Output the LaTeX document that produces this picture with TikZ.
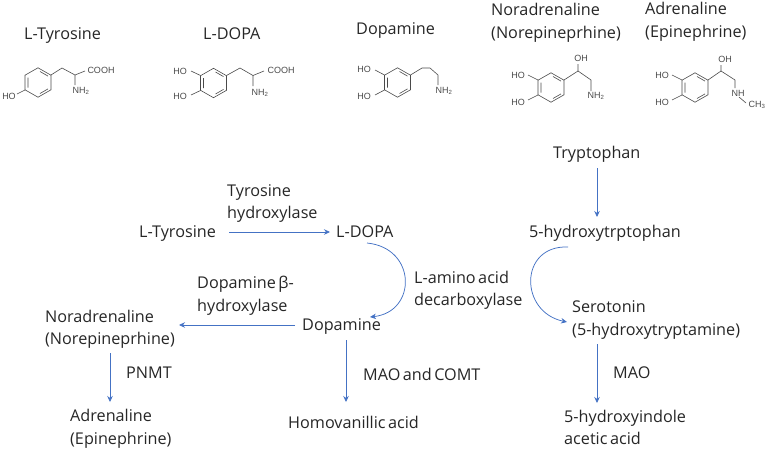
\documentclass[tikz,border=0pt]{standalone}
\usepackage{fontspec}
\setmainfont[WordSpace=0.6]{Open Sans}
\newfontfamily\molfont{Liberation Sans}
\usetikzlibrary{arrows.meta}
\definecolor{arrowblue}{HTML}{4472C4}
\definecolor{molgray}{HTML}{4A4A4A}
\tikzset{
  lab/.style={font=\fontsize{16.2}{19}\selectfont, text=black!85, inner sep=0pt, text height=14pt, text depth=3.5pt, anchor=west},
  arr/.style={draw=arrowblue, line width=0.75pt, -{Stealth[length=6pt,width=5.5pt]}},
  bond/.style={draw=molgray, line width=0.6pt},
  atom/.style={font=\molfont\fontsize{9}{10}\selectfont, text=molgray, inner sep=0pt},
}
\newcommand{\benzring}[2]{%
  \begin{scope}[shift={(#1,#2)}]
    \draw[bond] (0,14.7)--(13,7.3)--(13,-7.3)--(0,-14.7)--(-13,-7.3)--(-13,7.3)--cycle;
    \draw[bond] (2,11)--(10,6.4) (10,-6.4)--(2,-11) (-10,-5)--(-10,5);
  \end{scope}}
\begin{document}
\begin{tikzpicture}[x=1pt,y=-1pt]
\useasboundingbox (0,0) rectangle (767,450);
% top titles
\node[lab] (t1) at (24,34) {L-Tyrosine};
\node[lab] (t2) at (203,34) {L-DOPA};
\node[lab] (t3) at (356,29) {Dopamine};
\node[lab] (t4a) at (491,10) {Noradrenaline};
\node[lab] (t4b) at (491,33) {(Norepineprhine)};
\node[lab] (t5a) at (645,9) {Adrenaline};
\node[lab] (t5b) at (645,32) {(Epinephrine)};
% L-Tyrosine molecule
\benzring{38}{82.5}
\draw[bond] (51,75)--(62,68)--(75,75)--(85,71) (75,75)--(75,85) (25,90)--(17,94);
\node[atom] (m1a) at (101,70) {COOH};
\node[atom] (m1b) at (81,91) {NH\textsubscript{2}};
\node[atom] (m1c) at (9,96) {HO};
% L-DOPA molecule
\benzring{213.5}{83}
\draw[bond] (226.5,75.5)--(240,68)--(253,75.5)--(264,71) (253,75.5)--(253,86) (200.5,75.5)--(191,71) (200.5,90.5)--(191,95);
\node[atom] (m2a) at (281,70) {COOH};
\node[atom] (m2b) at (260,93) {NH\textsubscript{2}};
\node[atom] (m2c) at (180,71) {HO};
\node[atom] (m2d) at (180,96) {HO};
% Dopamine molecule
\benzring{397.5}{82.5}
\draw[bond] (410.5,75)--(422,68)--(430,68)--(438,75)--(438,85) (384.5,75)--(375,70) (384.5,90)--(375,95);
\node[atom] (m3a) at (444,91) {NH\textsubscript{2}};
\node[atom] (m3b) at (364,69) {HO};
\node[atom] (m3c) at (364,96) {HO};
% Noradrenaline molecule
\benzring{551}{87.5}
\draw[bond] (564,80)--(578,71)--(578,64) (578,71)--(591,80)--(591,91) (538,80)--(528,75) (538,95)--(528,100);
\node[atom] (m4a) at (581,58) {OH};
\node[atom] (m4b) at (596,96) {NH\textsubscript{2}};
\node[atom] (m4c) at (518,75) {HO};
\node[atom] (m4d) at (518,102) {HO};
% Adrenaline molecule
\benzring{695}{87.5}
\draw[bond] (708,80)--(721,71)--(721,65) (721,71)--(735,80)--(735,88) (739,97)--(746,103) (682,80)--(672,75) (682,95)--(672,100);
\node[atom] (m5a) at (725,59) {OH};
\node[atom] (m5b) at (738,93) {NH};
\node[atom] (m5c) at (757,105) {CH\textsubscript{3}};
\node[atom] (m5d) at (662,75) {HO};
\node[atom] (m5e) at (662,102) {HO};
% pathway nodes
\node[lab] (trp) at (553,153) {Tryptophan};
\node[lab] (htp) at (529,232) {5-hydroxytrptophan};
\node[lab] (tyr) at (139,232) {L-Tyrosine};
\node[lab] (dopa) at (336,232) {L-DOPA};
\node[lab] (dop) at (302,325) {Dopamine};
\node[lab] (ser1) at (572,307) {Serotonin};
\node[lab] (ser2) at (572,330) {(5-hydroxytryptamine)};
\node[lab] (nor1) at (45,317) {Noradrenaline};
\node[lab] (nor2) at (45,339) {(Norepineprhine)};
\node[lab] (adr1) at (70,416) {Adrenaline};
\node[lab] (adr2) at (70,439) {(Epinephrine)};
\node[lab] (hva) at (288,423) {Homovanillic acid};
\node[lab] (hia1) at (564,417) {5-hydroxyindole};
\node[lab] (hia2) at (564,439) {acetic acid};
% enzyme labels
\node[lab] (e1a) at (227,191) {Tyrosine};
\node[lab] (e1b) at (227,213) {hydroxylase};
\node[lab] (e2a) at (197,283) {Dopamine β-};
\node[lab] (e2b) at (197,306) {hydroxylase};
\node[lab] (e3a) at (414,278) {L-amino acid};
\node[lab] (e3b) at (414,300) {decarboxylase};
\node[lab] (e4) at (126,373) {PNMT};
\node[lab] (e5) at (363,375) {MAO and COMT};
\node[lab] (e6) at (613,373) {MAO};
% connectors
\coordinate (dopastart) at (367,243);
\coordinate (dopaend) at (370,317);
\coordinate (htpstart) at (568,247);
\coordinate (serend) at (567,322);
\coordinate (trpx) at (597,168);
\coordinate (htpx) at (597,217);
\coordinate (norx) at (110,353);
\coordinate (adrx) at (110,402);
\coordinate (dopx) at (346,340);
\coordinate (hvax) at (346,402);
\coordinate (serx) at (597,344);
\coordinate (hiax) at (597,403);
\coordinate (nortip) at (179,325);
\draw[arr] (trpx) -- (htpx);
\draw[arr, shorten <=13pt, shorten >=6pt] (tyr.east) -- (dopa.west);
\draw[arr] (dopastart) .. controls (417,248) and (417,312) .. (dopaend);
\draw[arr] (htpstart) .. controls (519,245) and (519,312) .. (serend);
\draw[arr, shorten <=7pt] (dop.west) -- (nortip);
\draw[arr] (norx) -- (adrx);
\draw[arr] (dopx) -- (hvax);
\draw[arr] (serx) -- (hiax);
\end{tikzpicture}
\end{document}
